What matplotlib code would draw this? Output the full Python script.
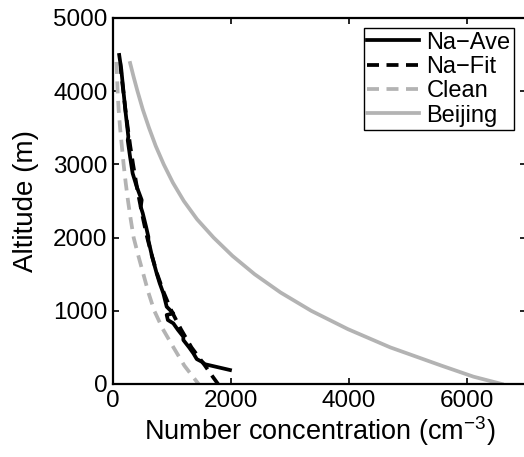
import matplotlib
matplotlib.use('Agg')
import matplotlib.pyplot as plt

plt.rcParams['font.family'] = ['Liberation Sans', 'DejaVu Sans']

# Altitude profiles (m) and number concentrations (cm^-3)
ave_alt = [4495, 4300, 4016, 3700, 3378, 3330, 3100, 2878, 2700, 2514, 2420, 2336,
           2150, 2012, 1967, 1750, 1512, 1380, 1239, 1056, 965, 943, 874, 829,
           740, 646, 601, 500, 419, 340, 305, 270, 191]
ave_conc = [105, 140, 175, 215, 260, 250, 290, 333, 400, 486, 470, 503,
            560, 599, 599, 660, 740, 790, 853, 910, 1022, 910, 930, 1022,
            1100, 1192, 1192, 1290, 1362, 1420, 1503, 1560, 1983]

fit_alt = [4400, 4200, 4000, 3750, 3500, 3250, 3000, 2750, 2500, 2250, 2000, 1750,
           1500, 1250, 1000, 750, 500, 250, 100, 0]
fit_conc = [120, 145, 175, 210, 250, 292, 340, 392, 450, 512, 580, 660,
            750, 860, 990, 1150, 1330, 1560, 1690, 1780]

clean_alt = [4400, 4250, 4000, 3750, 3500, 3250, 3000, 2750, 2500, 2250, 2000, 1750,
             1500, 1250, 1000, 750, 500, 250, 0]
clean_conc = [58, 66, 78, 95, 120, 150, 180, 215, 255, 300, 350, 430,
              515, 600, 700, 845, 1025, 1210, 1450]

beijing_alt = [4385, 4200, 4000, 3750, 3500, 3250, 3000, 2750, 2500, 2250, 2000, 1750,
               1500, 1250, 1000, 750, 500, 250, 100, 0]
beijing_conc = [290, 348, 415, 505, 610, 725, 860, 1015, 1200, 1425, 1705, 2025,
                2400, 2840, 3360, 3980, 4700, 5570, 6110, 6590]

gray = '#b3b3b3'

fig = plt.figure(figsize=(5.24, 4.57), dpi=100)
ax = fig.add_axes([113 / 524, 73 / 457, 413 / 524, 366 / 457])

ax.plot(ave_conc, ave_alt, color='k', lw=2.7, label='Na\u2212Ave')
ax.plot(fit_conc, fit_alt, color='k', lw=2.7, dashes=(3.2, 2.0), label='Na\u2212Fit')
ax.plot(clean_conc, clean_alt, color=gray, lw=2.7, dashes=(3.2, 2.0), label='Clean')
ax.plot(beijing_conc, beijing_alt, color=gray, lw=2.7, label='Beijing')

ax.set_xlim(0, 7000)
ax.set_ylim(0, 5000)
ax.set_xticks([0, 2000, 4000, 6000])
ax.set_yticks([0, 1000, 2000, 3000, 4000, 5000])
ax.tick_params(direction='in', top=True, right=True, length=4, width=1.2,
               labelsize=17.5, pad=4)
for sp in ax.spines.values():
    sp.set_linewidth(1.6)

ax.set_xlabel('Number concentration (cm$^{\\mathregular{-3}}$)', fontsize=19.5, labelpad=2)
ax.set_ylabel('Altitude (m)', fontsize=20, labelpad=10)

leg = ax.legend(loc='upper right', bbox_to_anchor=(514 / 524, 1 - 28 / 457),
                bbox_transform=fig.transFigure, fancybox=False, framealpha=1,
                edgecolor='k', handlelength=2.2, handletextpad=0.3,
                labelspacing=0.1, borderpad=0.15, borderaxespad=0, fontsize=17)
leg.get_frame().set_linewidth(1.0)

fig.savefig('out.png', dpi=100)
